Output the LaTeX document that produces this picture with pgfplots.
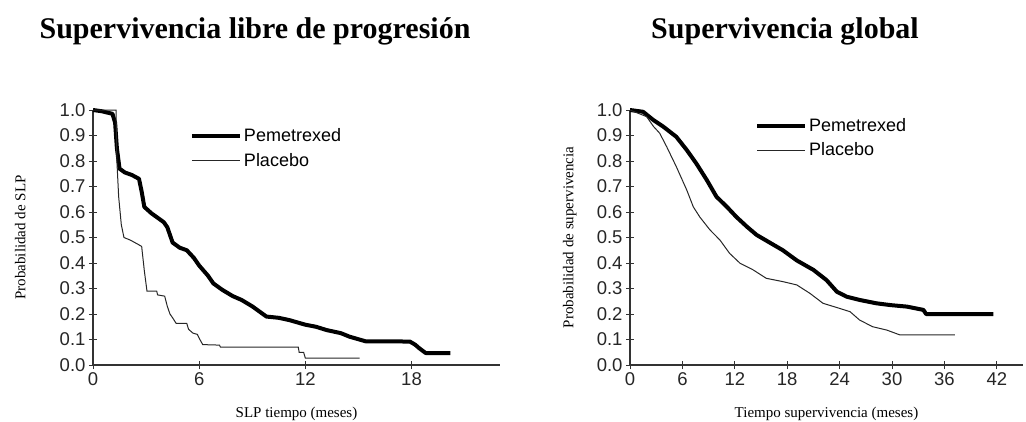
\documentclass[border=0pt]{standalone}
\usepackage{fontspec}
\setmainfont{Liberation Serif}
\setsansfont{Liberation Sans}
\usepackage{pgfplots}
\pgfplotsset{compat=1.18}
\begin{document}
\begin{tikzpicture}
\useasboundingbox (0pt,0pt) rectangle (1026pt,421pt);
\pgfplotsset{
  km/.style={
    scale only axis, height=255pt,
    axis lines=left, axis line style={-, black!80, line width=1.3pt},
    enlargelimits=false, clip=false,
    ymin=0, ymax=1, ytick={0,0.1,...,1.0},
    tick align=center, major tick length=8pt,
    every tick/.style={black!80, line width=1pt},
    tick label style={font=\sffamily\fontsize{18.5}{18.5}\selectfont, black!85},
    /pgf/number format/assume math mode=true,
    yticklabel style={/pgf/number format/.cd, fixed, fixed zerofill, precision=1},
    label style={font=\rmfamily\fontsize{15}{15}\selectfont},
    xlabel style={at={(axis description cs:0.5,-0.19)}, anchor=center},
    legend style={draw=none, fill=none, inner sep=0pt, row sep=6pt,
      font=\sffamily\fontsize{18}{18}\selectfont, legend cell align=left, cells={anchor=west}},
    legend image code/.code={\draw[#1] (0pt,0pt) -- (48pt,0pt);},
  }
}
\node[font=\rmfamily\bfseries\fontsize{30}{32}\selectfont] at (255pt,390pt) {Supervivencia libre de progresión};
\node[font=\rmfamily\bfseries\fontsize{30}{32}\selectfont] at (785pt,390pt) {Supervivencia global};
\begin{axis}[km, at={(93pt,56pt)}, anchor=south west, width=407pt,
  xmin=0, xmax=23, xtick={0,6,12,18},
  xlabel={SLP tiempo (meses)}, ylabel={Probabilidad de SLP},
  ylabel style={at={(axis description cs:-0.179,0.5)}, anchor=center},
  legend style={at={(axis cs:5.47,0.936)}, anchor=north west}]
\addplot[black, line width=4pt, line join=round] coordinates {
(0,1.0) (0.5,0.995) (1.1,0.985) (1.25,0.95) (1.35,0.85) (1.5,0.77) (1.8,0.755) (2.2,0.745) (2.6,0.73) (2.75,0.68) (2.9,0.62) (3.3,0.595) (3.6,0.58) (4.0,0.56) (4.2,0.54) (4.5,0.48) (4.9,0.46) (5.3,0.45) (5.7,0.42) (6.0,0.39) (6.5,0.35) (6.8,0.32) (7.3,0.295) (7.9,0.27) (8.4,0.255) (9.0,0.23) (9.8,0.19) (10.5,0.185) (11.1,0.176) (12.0,0.158) (12.6,0.15) (13.2,0.137) (14.0,0.125) (14.5,0.111) (15.4,0.093) (17.9,0.092) (18.2,0.08) (18.45,0.065) (18.8,0.047) (20.2,0.047)};
\addlegendentry{Pemetrexed}
\addplot[black!85, line width=1pt] coordinates {
(0,1) (1.3,1) (1.35,0.8) (1.45,0.66) (1.6,0.55) (1.75,0.5) (2.1,0.49) (2.5,0.475) (2.75,0.465) (2.9,0.37) (3.05,0.29) (3.6,0.29) (3.65,0.275) (4.05,0.27) (4.2,0.23) (4.35,0.2) (4.5,0.185) (4.7,0.163) (5.3,0.163) (5.4,0.14) (5.65,0.125) (5.9,0.12) (6.0,0.105) (6.2,0.08) (7.15,0.078) (7.2,0.07) (11.6,0.07) (11.65,0.05) (11.9,0.05) (12.0,0.027) (15.07,0.027)};
\addlegendentry{Placebo}
\end{axis}
\begin{axis}[km, at={(630pt,56pt)}, anchor=south west, width=393pt,
  xmin=0, xmax=45, xtick={0,6,...,42},
  xlabel={Tiempo supervivencia (meses)}, ylabel={Probabilidad de supervivencia},
  ylabel style={at={(axis description cs:-0.153,0.5)}, anchor=center},
  legend style={at={(axis cs:14.3,0.976)}, anchor=north west}]
\addplot[black, line width=4pt, line join=round] coordinates {
(0,1) (1.5,0.993) (2.7,0.96) (3.8,0.935) (5.3,0.895) (6.5,0.843) (7.6,0.79) (8.8,0.725) (9.9,0.66) (11.1,0.62) (12.2,0.58) (13.4,0.542) (14.5,0.51) (16.0,0.48) (17.5,0.45) (19.1,0.41) (21.0,0.373) (22.5,0.333) (23.7,0.287) (24.8,0.268) (26.3,0.255) (28.2,0.242) (29.8,0.235) (31.7,0.229) (33.6,0.216) (33.9,0.2) (41.6,0.2)};
\addlegendentry{Pemetrexed}
\addplot[black!85, line width=1pt] coordinates {
(0,1) (1.9,0.974) (2.7,0.935) (3.4,0.909) (4.2,0.856) (5.3,0.778) (6.5,0.686) (7.25,0.62) (8.0,0.58) (9.15,0.53) (10.3,0.49) (11.4,0.438) (12.6,0.399) (14.1,0.373) (15.6,0.34) (17.5,0.327) (19.1,0.314) (20.6,0.281) (22.1,0.242) (24.0,0.222) (25.2,0.209) (26.3,0.176) (27.8,0.15) (29.4,0.137) (30.9,0.118) (37.2,0.118)};
\addlegendentry{Placebo}
\end{axis}
\end{tikzpicture}
\end{document}
